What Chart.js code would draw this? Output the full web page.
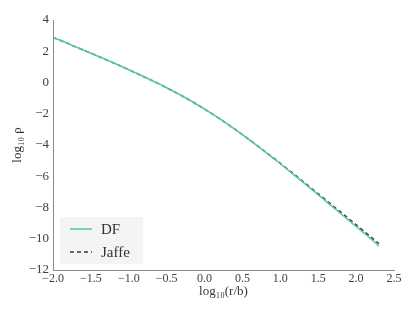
<!DOCTYPE html>
<html>
<head>
<meta charset="utf-8">
<script src="https://cdn.jsdelivr.net/npm/chart.js@4/dist/chart.umd.min.js"></script>
<style>
  html, body { margin: 0; padding: 0; background: #ffffff; }
  #wrap { width: 415px; height: 313px; }
</style>
</head>
<body>
<div id="wrap"><canvas id="densityChart" width="415" height="313"></canvas></div>
<script>
// ==========================================
// DATA
// ==========================================
const logRadius = [
  -2.0, -1.9, -1.8, -1.7, -1.6, -1.5, -1.4, -1.3, -1.2, -1.1,
  -1.0, -0.9, -0.8, -0.7, -0.6, -0.5, -0.4, -0.3, -0.2, -0.1,
   0.0,  0.1,  0.2,  0.3,  0.4,  0.5,  0.6,  0.7,  0.8,  0.9,
   1.0,  1.1,  1.2,  1.3,  1.4,  1.5,  1.6,  1.7,  1.8,  1.9,
   2.0,  2.1,  2.2,  2.3
];

const jaffeDensity = [
   2.89,  2.69,  2.49,  2.28,  2.08,  1.87,  1.67,  1.46,  1.25,  1.04,
   0.82,  0.60,  0.37,  0.14, -0.09, -0.34, -0.59, -0.85, -1.12, -1.41,
  -1.70, -2.01, -2.32, -2.65, -2.99, -3.34, -3.69, -4.06, -4.43, -4.80,
  -5.18, -5.57, -5.95, -6.34, -6.73, -7.13, -7.52, -7.92, -8.31, -8.71,
  -9.11, -9.51, -9.91, -10.31
];

const dfDensity = [
   2.89,  2.69,  2.49,  2.28,  2.08,  1.87,  1.67,  1.46,  1.25,  1.04,
   0.82,  0.60,  0.37,  0.14, -0.09, -0.34, -0.59, -0.85, -1.12, -1.41,
  -1.70, -2.01, -2.32, -2.65, -2.99, -3.34, -3.70, -4.07, -4.44, -4.82,
  -5.20, -5.60, -5.99, -6.39, -6.79, -7.19, -7.59, -8.00, -8.40, -8.81,
  -9.21, -9.62, -10.03, -10.45
];

const xTickValues = [-2.0, -1.5, -1.0, -0.5, 0.0, 0.5, 1.0, 1.5, 2.0, 2.5];
const yTickValues = [-12, -10, -8, -6, -4, -2, 0, 2, 4];

const SERIF = "'Liberation Serif', 'DejaVu Serif', serif";

function toPoints(xs, ys) {
  return xs.map((x, i) => ({ x: x, y: ys[i] }));
}

function fmtMinus(str) {
  return String(str).replace('-', '\u2212');
}

// ==========================================
// LEGEND (drawn inside the plot, lower left)
// ==========================================
const boxLegend = {
  id: 'boxLegend',
  afterDraw(chart) {
    const ctx = chart.ctx;
    const left = chart.chartArea.left + 7;
    const top = chart.chartArea.bottom - 53;
    ctx.save();
    ctx.fillStyle = '#f4f4f4';
    ctx.fillRect(left, top, 83, 47);
    ctx.font = '15px ' + SERIF;
    ctx.textBaseline = 'middle';
    chart.data.datasets.forEach((ds, i) => {
      const y = top + 12 + i * 23;
      ctx.strokeStyle = ds.borderColor;
      ctx.lineWidth = ds.borderWidth;
      ctx.setLineDash(ds.borderDash || []);
      ctx.beginPath();
      ctx.moveTo(left + 10, y);
      ctx.lineTo(left + 32, y);
      ctx.stroke();
      ctx.setLineDash([]);
      ctx.fillStyle = '#333333';
      ctx.fillText(ds.label, left + 41, y + 1);
    });
    ctx.restore();
  }
};

// ==========================================
// CHART
// ==========================================
const ctx = document.getElementById('densityChart').getContext('2d');

new Chart(ctx, {
  type: 'line',
  data: {
    datasets: [
      {
        label: 'DF',
        data: toPoints(logRadius, dfDensity),
        borderColor: '#5ccb9f',
        borderWidth: 1.6,
        pointRadius: 0,
        tension: 0.3
      },
      {
        label: 'Jaffe',
        data: toPoints(logRadius, jaffeDensity),
        borderColor: '#3a3a3a',
        borderWidth: 1.6,
        borderDash: [4, 3],
        pointRadius: 0,
        tension: 0.3
      }
    ]
  },
  options: {
    responsive: false,
    animation: false,
    layout: { padding: { top: 20, right: 21, left: 0, bottom: 0 } },
    plugins: {
      legend: { display: false },
      tooltip: { enabled: false }
    },
    scales: {
      x: {
        type: 'linear',
        min: -2.0,
        max: 2.5,
        afterFit: (scale) => { scale.height = 43; },
        afterBuildTicks: (scale) => { scale.ticks = xTickValues.map(v => ({ value: v })); },
        grid: { display: false, drawTicks: false, tickLength: 0 },
        border: { display: true, color: '#8a8a8a', width: 1 },
        ticks: {
          padding: 2,
          color: '#404040',
          font: { family: SERIF, size: 12 },
          maxRotation: 0,
          callback: (v) => fmtMinus(Number(v).toFixed(1))
        },
        title: {
          display: true,
          text: 'log\u2081\u2080(r/b)',
          color: '#333333',
          font: { family: SERIF, size: 13 },
          padding: { top: 0, bottom: 14 }
        }
      },
      y: {
        type: 'linear',
        min: -12,
        max: 4,
        afterFit: (scale) => { scale.width = 53; },
        afterBuildTicks: (scale) => { scale.ticks = yTickValues.map(v => ({ value: v })); },
        grid: { display: false, drawTicks: false, tickLength: 0 },
        border: { display: true, color: '#8a8a8a', width: 1 },
        ticks: {
          padding: 4,
          color: '#404040',
          font: { family: SERIF, size: 13 },
          callback: (v) => fmtMinus(v)
        },
        title: {
          display: true,
          text: 'log\u2081\u2080 \u03c1',
          color: '#333333',
          font: { family: SERIF, size: 13 },
          padding: { top: 10, bottom: 2 }
        }
      }
    }
  },
  plugins: [boxLegend]
});
</script>
</body>
</html>
